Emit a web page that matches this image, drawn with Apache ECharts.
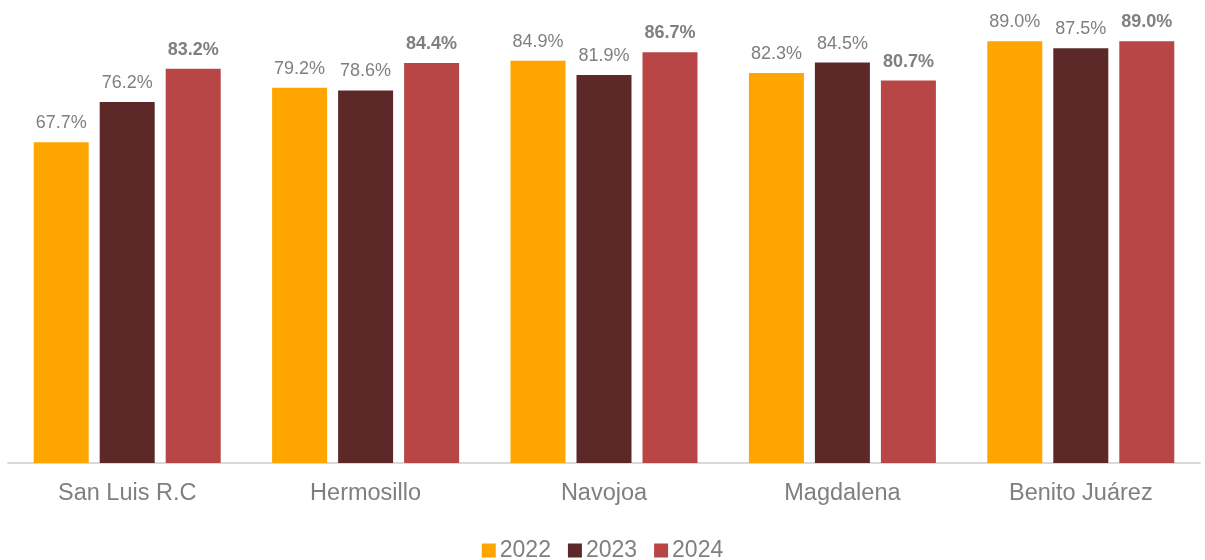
<!DOCTYPE html>
<html><head><meta charset="utf-8">
<script src="https://cdn.jsdelivr.net/npm/echarts@6/dist/echarts.min.js"></script>
<style>html,body{margin:0;padding:0;background:#fff}#c{width:1205px;height:560px}</style>
</head><body><div id="c"></div>
<script>
var categories = ["San Luis R.C", "Hermosillo", "Navojoa", "Magdalena", "Benito Juárez"];
var years = ["2022", "2023", "2024"];
var v2022 = [67.7, 79.2, 84.9, 82.3, 89.0];
var v2023 = [76.2, 78.6, 81.9, 84.5, 87.5];
var v2024 = [83.2, 84.4, 86.7, 80.7, 89.0];
var colors = ["#FFA500", "#5C2828", "#B94646"];
var FONT = "'Liberation Sans', Arial, sans-serif";
var chart = echarts.init(document.getElementById('c'), null, {renderer: 'canvas'});
function mk(name, data, color, bold) {
  return {
    name: name, type: 'bar', data: data, barWidth: 55, barGap: '20%',
    itemStyle: {color: color},
    label: {show: true, position: 'top', distance: 10, color: '#7f7f7f', fontSize: 18,
      fontFamily: FONT, fontWeight: bold ? 'bold' : 'normal',
      formatter: function (p) { return p.value.toFixed(1) + '%'; }}
  };
}
chart.setOption({
  animation: false,
  textStyle: {fontFamily: FONT},
  grid: {left: 8, right: 5, top: 0, bottom: 97, containLabel: false},
  legend: {bottom: -2, padding: 0, left: 'center', itemWidth: 14, itemHeight: 14, itemGap: 17,
    icon: 'rect', textStyle: {fontSize: 23, color: '#7f7f7f', fontFamily: FONT, padding: [0,0,0,-1]},
    data: years},
  xAxis: {type: 'category', data: categories,
    axisLine: {lineStyle: {color: '#d9d9d9', width: 2}}, axisTick: {show: false},
    axisLabel: {fontSize: 23.5, color: '#7f7f7f', margin: 19, fontFamily: FONT}},
  yAxis: {type: 'value', min: 0, max: 97.7, show: false, splitLine: {show: false}},
  series: [mk(years[0], v2022, colors[0], false), mk(years[1], v2023, colors[1], false), mk(years[2], v2024, colors[2], true)]
});
</script></body></html>
